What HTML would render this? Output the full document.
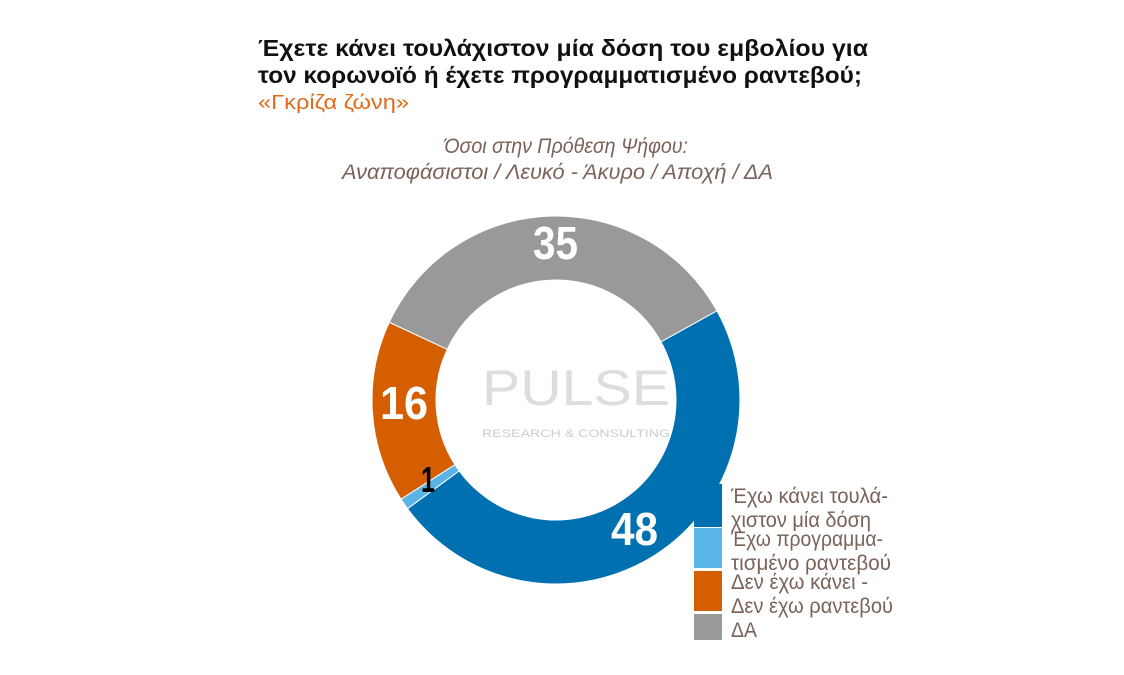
<!DOCTYPE html>
<html><head><meta charset="utf-8"><style>
body{margin:0;width:1124px;height:675px;background:#fff;overflow:hidden;font-family:"Liberation Sans",sans-serif;}
svg{position:absolute;left:0;top:0}
</style></head><body>
<svg width="1124" height="675" viewBox="0 0 1124 675" font-family="'Liberation Sans',sans-serif">
<text x="258" y="56" font-size="23" font-weight="bold" fill="#111" textLength="610" lengthAdjust="spacingAndGlyphs">Έχετε κάνει τουλάχιστον μία δόση του εμβολίου για</text>
<text x="258" y="83" font-size="23" font-weight="bold" fill="#111" textLength="604" lengthAdjust="spacingAndGlyphs">τον κορωνοϊό ή έχετε προγραμματισμένο ραντεβού;</text>
<text x="258" y="109" font-size="20" fill="#e06a1a" textLength="151" lengthAdjust="spacingAndGlyphs">«Γκρίζα ζώνη»</text>
<text x="444" y="153" font-size="21" font-style="italic" fill="#7a6258" textLength="244" lengthAdjust="spacingAndGlyphs">Όσοι στην Πρόθεση Ψήφου:</text>
<text x="342" y="179" font-size="21" font-style="italic" fill="#7a6258" textLength="431" lengthAdjust="spacingAndGlyphs">Αναποφάσιστοι / Λευκό - Άκυρο / Αποχή / ΔΑ</text>
<g id="d"></g>
<text x="482" y="405" font-size="50" fill="#ddd" textLength="188" lengthAdjust="spacingAndGlyphs">PULSE</text>
<text x="482" y="437" font-size="11" fill="#ccc" textLength="188" lengthAdjust="spacingAndGlyphs">RESEARCH &amp; CONSULTING</text>
<text x="533" y="259" font-size="46" font-weight="bold" fill="#fff" textLength="45" lengthAdjust="spacingAndGlyphs">35</text>
<text x="380" y="419" font-size="46" font-weight="bold" fill="#fff" textLength="48" lengthAdjust="spacingAndGlyphs">16</text>
<text x="421" y="492" font-size="36" font-weight="bold" fill="#000" textLength="14" lengthAdjust="spacingAndGlyphs">1</text>
<text x="611" y="545" font-size="46" font-weight="bold" fill="#fff" textLength="47" lengthAdjust="spacingAndGlyphs">48</text>
<rect x="694" y="484" width="28" height="43" fill="#0070b0"/>
<rect x="694" y="528" width="28" height="40" fill="#5ab4e6"/>
<rect x="694" y="571" width="28" height="40" fill="#d55f00"/>
<rect x="694" y="614" width="28" height="26" fill="#999"/>
<g font-size="21" fill="#7a6258" lengthAdjust="spacingAndGlyphs">
<text x="731" y="503" textLength="157" lengthAdjust="spacingAndGlyphs">Έχω κάνει τουλά-</text>
<text x="731" y="527" textLength="140" lengthAdjust="spacingAndGlyphs">χιστον μία δόση</text>
<text x="731" y="546" textLength="152" lengthAdjust="spacingAndGlyphs">Έχω προγραμμα-</text>
<text x="731" y="570" textLength="160" lengthAdjust="spacingAndGlyphs">τισμένο ραντεβού</text>
<text x="731" y="589" textLength="137" lengthAdjust="spacingAndGlyphs">Δεν έχω κάνει -</text>
<text x="731" y="613" textLength="162" lengthAdjust="spacingAndGlyphs">Δεν έχω ραντεβού</text>
<text x="731" y="637" textLength="26" lengthAdjust="spacingAndGlyphs">ΔΑ</text>
</g>
</svg>
<script>
var cx=556,cy=400,R=184,r=120,g=document.getElementById('d');
var segs=[[48,'#0070b0'],[1,'#5ab4e6'],[16,'#d55f00'],[35,'#999']];
var a=61;
function p(rad,deg){var t=deg*Math.PI/180;return (cx+rad*Math.sin(t)).toFixed(2)+','+(cy-rad*Math.cos(t)).toFixed(2);}
segs.forEach(function(s){var b=a+s[0]*3.6,l=s[0]>50?1:0;
var d='M'+p(R,a)+'A'+R+','+R+' 0 '+l+' 1 '+p(R,b)+'L'+p(r,b)+'A'+r+','+r+' 0 '+l+' 0 '+p(r,a)+'Z';
var e=document.createElementNS('http://www.w3.org/2000/svg','path');e.setAttribute('d',d);e.setAttribute('fill',s[1]);e.setAttribute('stroke','#fff');e.setAttribute('stroke-width','1');g.appendChild(e);a=b;});
</script>
</body></html>
